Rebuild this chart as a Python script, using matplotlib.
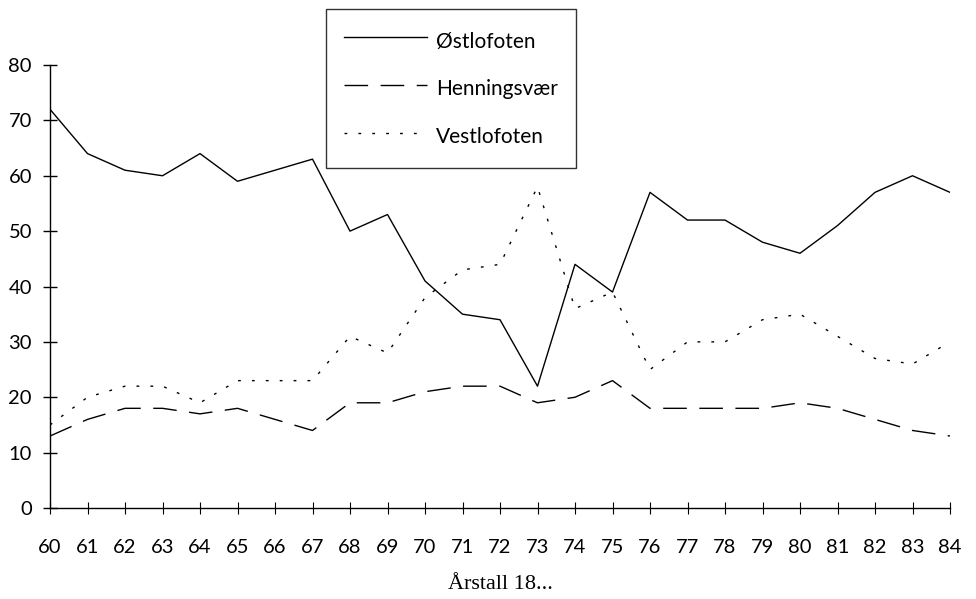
import numpy as np
import matplotlib
matplotlib.use("Agg")
import matplotlib.pyplot as plt

# years 1860-1884, shown as two-digit labels
years = list(range(60, 85))

ostlofoten = [72, 64, 61, 60, 64, 59, 61, 63, 50, 53, 41, 35, 34, 22, 44, 39,
              57, 52, 52, 48, 46, 51, 57, 60, 57]
henningsvaer = [13, 16, 18, 18, 17, 18, 16, 14, 19, 19, 21, 22, 22, 19, 20, 23,
                18, 18, 18, 18, 19, 18, 16, 14, 13]
vestlofoten = [15, 20, 22, 22, 19, 23, 23, 23, 31, 28, 38, 43, 44, 58, 36, 39,
               25, 30, 30, 34, 35, 31, 27, 26, 30]

series_names = ["Østlofoten", "Henningsvær", "Vestlofoten"]
y_ticks = [0, 10, 20, 30, 40, 50, 60, 70, 80]

W, H = 976, 599
fig = plt.figure(figsize=(W / 100, H / 100), dpi=100)
ax = fig.add_axes([50 / W, 1 - 508 / H, 900 / W, 443 / H])

lw = 1.0
ax.plot(years, ostlofoten, color="black", lw=lw, label=series_names[0])
ax.plot(years, henningsvaer, color="black", lw=lw, dashes=(17, 9),
        label=series_names[1])
ax.plot(years, vestlofoten, color="black", lw=lw, dashes=(2, 8),
        label=series_names[2])

ax.set_xlim(60, 84)
ax.set_ylim(0, 80)
ax.set_xticks(years)
ax.set_xticklabels([str(y) for y in years])
ax.set_yticks(y_ticks)

for s in ["top", "right"]:
    ax.spines[s].set_visible(False)
for s in ["left", "bottom"]:
    ax.spines[s].set_linewidth(1.0)

tick_font = "Lato"
ax.tick_params(axis="y", direction="inout", length=10, width=1.0, pad=8,
               labelsize=14.5)
ax.tick_params(axis="x", direction="inout", length=8, width=0.8, pad=18,
               labelsize=14.5)
for lab in ax.get_xticklabels() + ax.get_yticklabels():
    lab.set_fontfamily(tick_font)

ax.set_xlabel("Årstall 18...", fontsize=16, family="Liberation Serif",
              labelpad=14)

# taller rows so the box gets the roomy look of the original
leg = ax.legend(loc="upper left", bbox_to_anchor=(326 / W, 1 - 9 / H),
                bbox_transform=fig.transFigure, borderaxespad=0,
                frameon=True, fancybox=False, edgecolor="black",
                prop={"family": tick_font, "size": 15},
                handlelength=4.0, handleheight=1.7, handletextpad=0.45,
                labelspacing=0.94, borderpad=0.85)
leg.get_frame().set_linewidth(1.0)

fig.savefig("out.png", dpi=100)
